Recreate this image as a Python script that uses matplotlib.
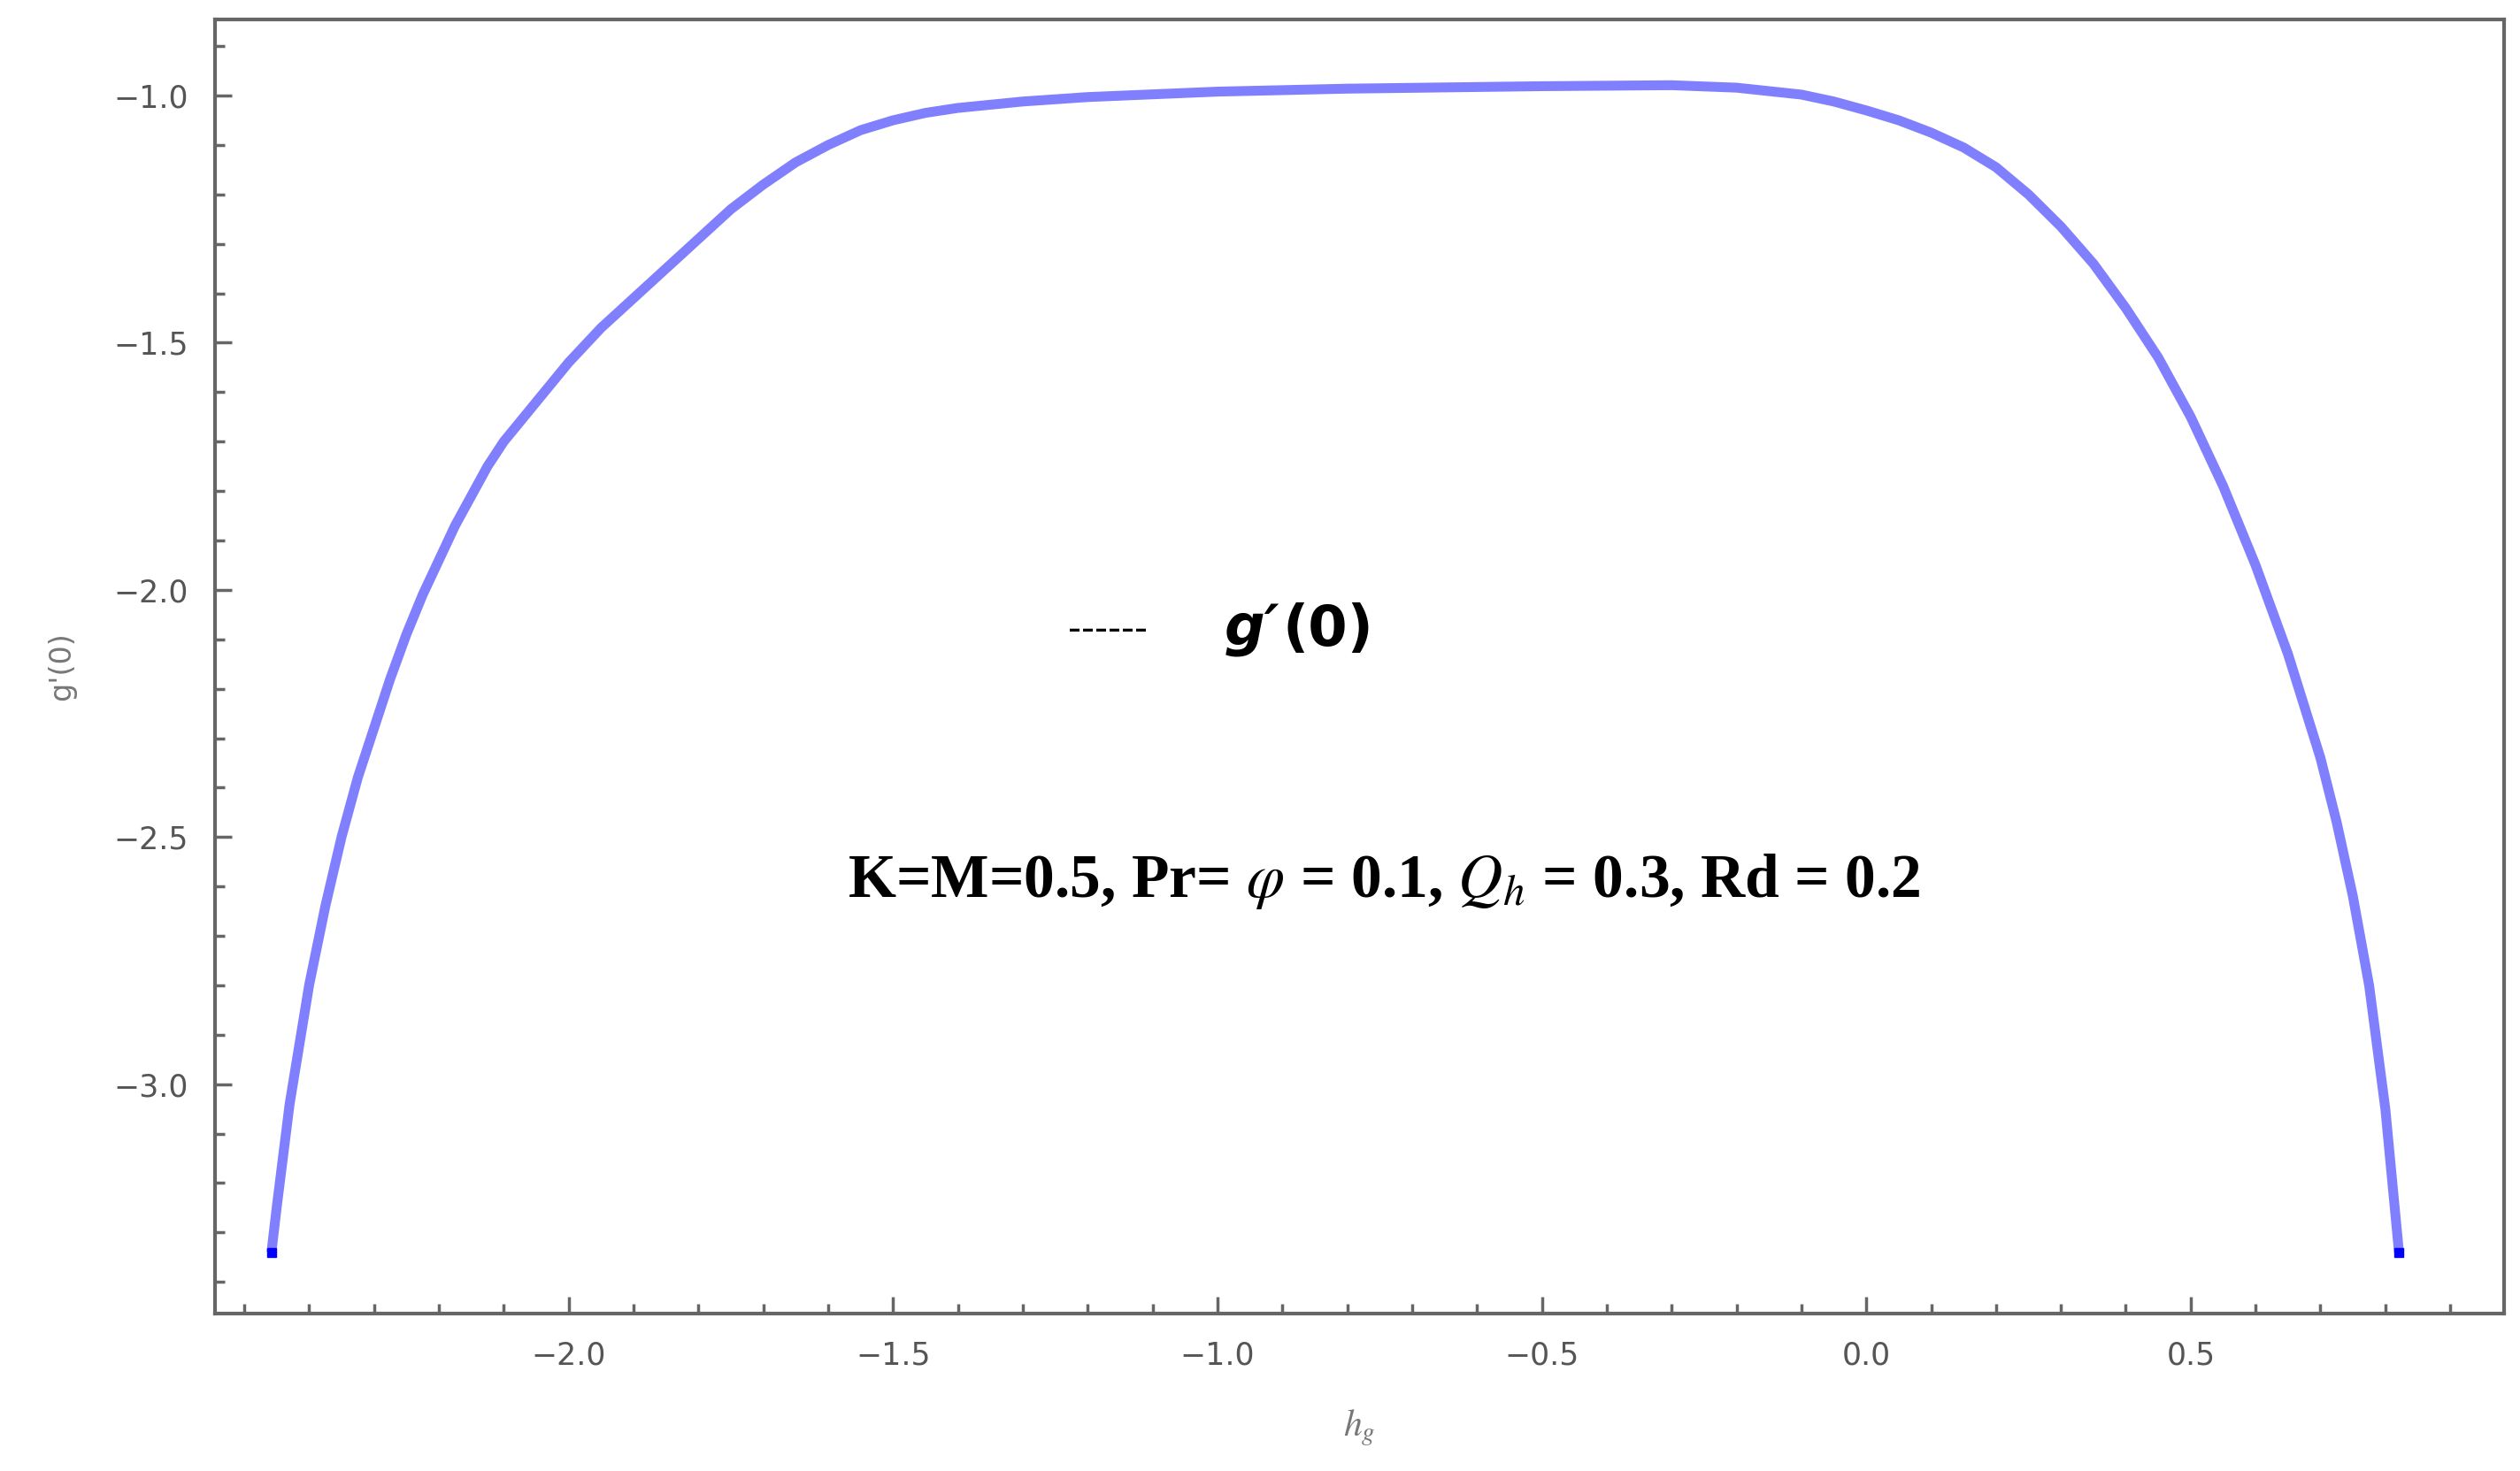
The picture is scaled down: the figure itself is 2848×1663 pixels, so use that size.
import matplotlib
matplotlib.use("Agg")
import matplotlib.pyplot as plt
from matplotlib.ticker import MultipleLocator

hg = [-2.458, -2.45, -2.43, -2.4, -2.375, -2.35, -2.325, -2.3, -2.275, -2.25, -2.225, -2.2, -2.175, -2.15, -2.125,
      -2.1, -2.05, -2.0, -1.95, -1.9, -1.85, -1.8, -1.75, -1.7, -1.65, -1.6, -1.55, -1.5, -1.45, -1.4, -1.3,
      -1.2, -1.0, -0.8, -0.5, -0.3, -0.2, -0.1, -0.05, 0.0, 0.05, 0.1, 0.15, 0.2, 0.25, 0.3, 0.35, 0.4, 0.45,
      0.5, 0.55, 0.6, 0.65, 0.7, 0.725, 0.75, 0.775, 0.8, 0.821]
gp0 = [-3.34, -3.25, -3.04, -2.80, -2.64, -2.50, -2.38, -2.28, -2.18, -2.09, -2.01, -1.94, -1.87, -1.81, -1.75,
       -1.70, -1.62, -1.54, -1.47, -1.41, -1.35, -1.29, -1.23, -1.18, -1.135, -1.10, -1.07, -1.05, -1.035, -1.025, -1.012,
       -1.003, -0.992, -0.986, -0.981, -0.979, -0.984, -0.998, -1.012, -1.03, -1.05, -1.075, -1.105, -1.145, -1.20, -1.265, -1.34, -1.43, -1.53,
       -1.65, -1.79, -1.95, -2.13, -2.34, -2.47, -2.62, -2.80, -3.05, -3.34]

plt.rcParams['mathtext.fontset'] = 'stix'
fig = plt.figure(figsize=(28.48, 16.63), dpi=100)
ax = fig.add_axes([243/2848, 1-1485/1663, (2830-243)/2848, (1485-22)/1663])
ax.plot(hg, gp0, color="#8080ff", lw=8, solid_capstyle="butt")
ax.plot([hg[0], hg[-1]], [gp0[0], gp0[-1]], "s", color="blue", ms=7)
ax.set_xlim(-2.545, 0.983)
ax.set_ylim(-3.464, -0.846)
ax.set_xticks([-2.0, -1.5, -1.0, -0.5, 0.0, 0.5])
ax.set_yticks([-1.0, -1.5, -2.0, -2.5, -3.0])
ax.set_xticklabels(["\u22122.0", "\u22121.5", "\u22121.0", "\u22120.5", "0.0", "0.5"])
ax.set_yticklabels(["\u22121.0", "\u22121.5", "\u22122.0", "\u22122.5", "\u22123.0"])
ax.xaxis.set_minor_locator(MultipleLocator(0.1))
ax.yaxis.set_minor_locator(MultipleLocator(0.1))
for s in ax.spines.values():
    s.set_color("#666666"); s.set_linewidth(3)
ax.tick_params(which="major", direction="in", length=14, width=2.5, color="#666666", labelsize=25, labelcolor="#555555", pad=22)
ax.tick_params(which="minor", direction="in", length=8, width=2.5, color="#666666")
ax.tick_params(top=False, right=False, which="both")
ax.set_xlabel("$h_g$", fontsize=30, color="#777777", labelpad=30)
ax.set_ylabel("g'(0)", fontsize=24, color="#777777", labelpad=30)
ax.text(-1.23, -2.08, "------", fontsize=30, va="center")
ax.text(-0.99, -2.08, "g\u2032", fontsize=46, fontweight="bold", style="italic", va="center")
ax.text(-0.9, -2.08, "(0)", fontsize=46, fontweight="bold", va="center")
ax.text(-1.57, -2.59, "K=M=0.5, Pr= $\\varphi$ = 0.1, $Q_h$ = 0.3, Rd = 0.2",
        fontsize=50, fontweight="bold", family="Liberation Serif", va="center")
fig.savefig("out.png", dpi=100)
